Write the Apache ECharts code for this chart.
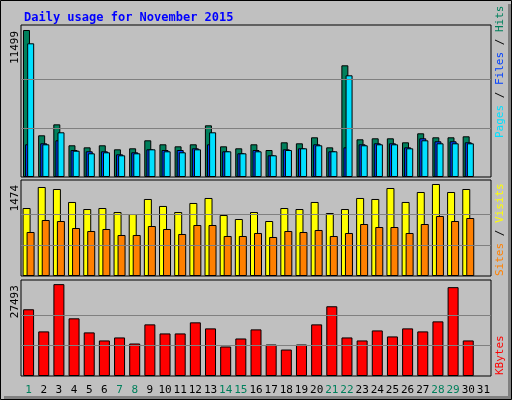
<!DOCTYPE html>
<html>
<head>
<meta charset="utf-8">
<script src="https://cdn.jsdelivr.net/npm/echarts@6/dist/echarts.min.js"></script>
<style>
  html, body { margin: 0; padding: 0; background: #c0c0c0; }
  #chart { width: 512px; height: 400px; }
</style>
</head>
<body>
<div id="chart"></div>
<script>
var days = ['1','2','3','4','5','6','7','8','9','10','11','12','13','14','15','16','17','18','19','20','21','22','23','24','25','26','27','28','29','30','31'];
var weekend = ['1','7','8','14','15','21','22','28','29'];

var hits   = [11499,3262,4120,2480,2320,2480,2165,2245,2870,2557,2400,2557,4044,2400,2245,2557,2112,2714,2636,3105,2320,8737,2949,3027,3027,2714,3418,3105,3105,3183,null];
var files  = [10458,2557,3496,2057,1853,1932,1697,1853,2165,2010,1932,2165,3496,2010,1853,2010,1697,2112,2245,2480,2010,7955,2480,2557,2557,2245,2870,2636,2636,2636,null];
var pages  = [2557,2636,2870,2112,2010,2010,1775,1932,2165,2112,2112,2245,2557,2010,1853,2112,1697,2165,2245,2557,2010,2320,2557,2636,2636,2320,3027,2792,2792,2714,null];
var visits = [1089,1426,1394,1186,1073,1089,1025,993,1234,1122,1025,1170,1250,977,913,1025,881,1089,1073,1186,1009,1073,1250,1234,1410,1186,1346,1474,1346,1394,null];
var sites  = [705,897,881,769,721,753,657,657,801,753,673,817,817,641,641,689,625,721,705,737,641,689,833,785,785,689,833,961,881,929,null];
var kbytes = [19970,13350,27493,17260,13050,10640,11540,9730,15450,12740,12740,16060,14250,8830,11230,13950,9430,7920,9430,15450,20870,11540,10640,13640,11840,14250,13350,16350,26590,10640,null];

var maxLabels = [11499, 1474, 27493];
var mono = 'DejaVu Sans Mono';

var chart = echarts.init(document.getElementById('chart'));

function xAxisFor(idx, showLabels) {
    return {
        type: 'category', gridIndex: idx, data: days,
        axisLine: {show: false}, axisTick: {show: false},
        axisLabel: {
            show: showLabels, margin: 9, interval: 0,
            fontFamily: mono, fontSize: 11,
            color: function (v) { return weekend.indexOf(v) >= 0 ? '#00805c' : '#000000'; }
        }
    };
}
function yAxisFor(idx, max) {
    return {
        type: 'value', gridIndex: idx, min: 0, max: max,
        axisLabel: {show: false}, axisLine: {show: false}, axisTick: {show: false},
        splitLine: {show: false}
    };
}
function guides(top) {
    return {
        silent: true, symbol: 'none', label: {show: false},
        lineStyle: {color: '#808080', type: 'solid', width: 1},
        data: [{yAxis: top / 3}, {yAxis: top * 2 / 3}]
    };
}
var outline = {borderColor: '#000', borderWidth: 1};

var option = {
    animation: false,
    backgroundColor: '#c0c0c0',
    title: {
        text: 'Daily usage for November 2015', left: 19, top: 7,
        textStyle: {color: '#0000ff', fontFamily: mono, fontSize: 12, fontWeight: 'bold'}
    },
    grid: [
        {left: 21, right: 21, top: 25, height: 152, show: true, borderColor: '#000', borderWidth: 1, backgroundColor: '#c0c0c0'},
        {left: 21, right: 21, top: 180, height: 96, show: true, borderColor: '#000', borderWidth: 1, backgroundColor: '#c0c0c0'},
        {left: 21, right: 21, top: 280, height: 96, show: true, borderColor: '#000', borderWidth: 1, backgroundColor: '#c0c0c0'}
    ],
    xAxis: [xAxisFor(0, false), xAxisFor(1, false), xAxisFor(2, true)],
    yAxis: [yAxisFor(0, 11890), yAxisFor(1, 1538), yAxisFor(2, 28730)],
    series: [
        {name: 'Hits', type: 'bar', xAxisIndex: 0, yAxisIndex: 0, data: hits, barWidth: 7, barGap: '-70%',
         itemStyle: Object.assign({color: '#00805c'}, outline), markLine: guides(maxLabels[0]), z: 2},
        {name: 'Pages', type: 'bar', xAxisIndex: 0, yAxisIndex: 0, data: pages, barWidth: 7, barGap: '-70%',
         itemStyle: Object.assign({color: '#0040ff'}, outline), z: 3},
        {name: 'Files', type: 'bar', xAxisIndex: 0, yAxisIndex: 0, data: files, barWidth: 7, barGap: '-70%',
         itemStyle: Object.assign({color: '#00e0ff'}, outline), z: 4},
        {name: 'Visits', type: 'bar', xAxisIndex: 1, yAxisIndex: 1, data: visits, barWidth: 8, barGap: '-50%',
         itemStyle: Object.assign({color: '#ffff00'}, outline), markLine: guides(maxLabels[1]), z: 2},
        {name: 'Sites', type: 'bar', xAxisIndex: 1, yAxisIndex: 1, data: sites, barWidth: 8, barGap: '-50%',
         itemStyle: Object.assign({color: '#ff8000'}, outline), z: 3},
        {name: 'KBytes', type: 'bar', xAxisIndex: 2, yAxisIndex: 2, data: kbytes, barWidth: 11,
         itemStyle: Object.assign({color: '#ff0000'}, outline), markLine: guides(maxLabels[2]), z: 2}
    ]
};
chart.setOption(option);

// max value labels at the left, legends on the right, outer frame
var graphics = [
    {type: 'rect', shape: {x: 0.5, y: 0.5, width: 511, height: 399}, style: {fill: 'none', stroke: '#000', lineWidth: 1}, z: 100},
    {type: 'rect', shape: {x: 508, y: 4, width: 3, height: 395}, style: {fill: '#808080'}, z: 99},
    {type: 'rect', shape: {x: 4, y: 396, width: 507, height: 3}, style: {fill: '#808080'}, z: 99}
];
maxLabels.forEach(function (v, i) {
    var py = chart.convertToPixel({yAxisIndex: i}, v);
    graphics.push({
        type: 'text', x: 15, y: Math.max(py, [25, 180, 280][i]) + 1, rotation: Math.PI / 2,
        style: {text: String(v), fontFamily: mono, fontSize: 11, fill: '#000', align: 'right', verticalAlign: 'middle'}
    });
});
function legend(y, parts) {
    graphics.push({
        type: 'text', x: 500, y: y, rotation: Math.PI / 2,
        style: {
            text: parts.map(function (p, k) { return '{s' + k + '|' + p[0] + '}'; }).join(''),
            rich: parts.reduce(function (r, p, k) { r['s' + k] = {fill: p[1], fontFamily: mono, fontSize: 11}; return r; }, {}),
            align: 'left', verticalAlign: 'middle'
        }
    });
}
legend(138, [['Pages', '#00e0ff'], [' / ', '#000'], ['Files', '#0040ff'], [' / ', '#000'], ['Hits', '#00805c']]);
legend(276, [['Sites', '#ff8000'], [' / ', '#000'], ['Visits', '#ffff00']]);
legend(375, [['KBytes', '#ff0000']]);
chart.setOption({graphic: graphics});
</script>
</body>
</html>
